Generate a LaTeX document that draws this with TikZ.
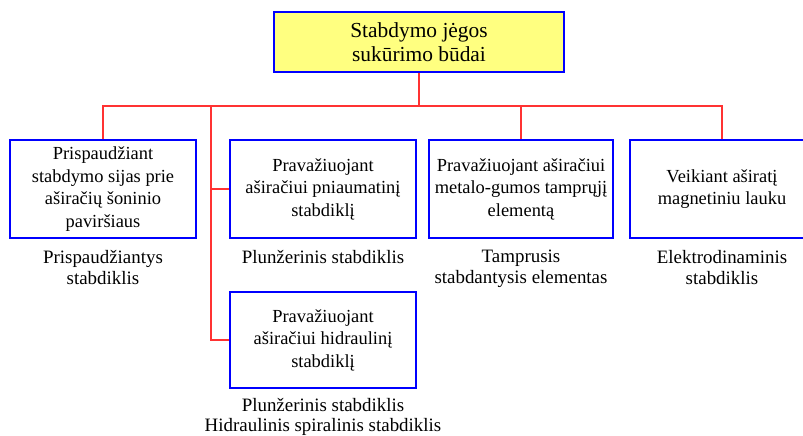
\documentclass[tikz,border=0pt]{standalone}
\usepackage{fontspec}
\setmainfont{Liberation Serif}
\usetikzlibrary{positioning}
\definecolor{boxyellow}{RGB}{255,255,128}
\definecolor{linkred}{RGB}{255,50,50}

\begin{document}
\begin{tikzpicture}[
        x=1bp, y=-1bp,
        node distance=11bp,
        box/.style={draw=blue, line width=1.6bp, align=center, minimum width=184bp, minimum height=98bp, inner sep=2bp, font=\rmfamily\fontsize{18.5}{22.5}\selectfont},
        topbox/.style={box, fill=boxyellow, minimum width=290bp, minimum height=60bp, font=\rmfamily\fontsize{21.5}{23.5}\selectfont},
        caption/.style={align=center, inner sep=0pt, font=\rmfamily\fontsize{19}{21.5}\selectfont},
        link/.style={draw=linkred, line width=1.2bp}
    ]
  \useasboundingbox (0,0) rectangle (803,436);

  % Nodes
  \node[topbox] (top) at (419,42) {Stabdymo jėgos\\sukūrimo būdai};
  \node[box, minimum width=186bp] (b1) at (103,189) {Prispaudžiant\\stabdymo sijas prie\\aširačių šoninio\\paviršiaus};
  \node[box, minimum width=186bp] (b2) at (323,189) {Pravažiuojant\\aširačiui pniaumatinį\\stabdiklį};
  \node[box] (b3) at (521,189) {Pravažiuojant aširačiui\\metalo-gumos tamprųjį\\elementą};
  \node[box] (b4) at (722,189) {Veikiant aširatį\\magnetiniu lauku};
  \node[box, minimum width=186bp, minimum height=96bp] (b5) at (323,340) {Pravažiuojant\\aširačiui hidraulinį\\stabdiklį};

  \node[caption, below=of b1] (c1) {Prispaudžiantys\\stabdiklis};
  \node[caption, below=of b2] (c2) {Plunžerinis stabdiklis};
  \node[caption, below=of b3] (c3) {Tamprusis\\stabdantysis elementas};
  \node[caption, below=of b4] (c4) {Elektrodinaminis\\stabdiklis};
  \node[caption, below=9bp of b5, font=\rmfamily\fontsize{19}{20}\selectfont] (c5) {Plunžerinis stabdiklis\\Hidraulinis spiralinis stabdiklis};

  % Links
  \coordinate (bus) at (419,106);
  \coordinate (spine) at (211,106);
  \draw[link] (top.south) -- (bus);
  \draw[link] (b1.north) |- (bus) -| (b4.north);
  \draw[link] (b3.north) -- (b3.north |- bus);
  \draw[link] (spine) |- (b5.west);
  \draw[link] (spine |- b2.west) -- (b2.west);
\end{tikzpicture}
\end{document}
